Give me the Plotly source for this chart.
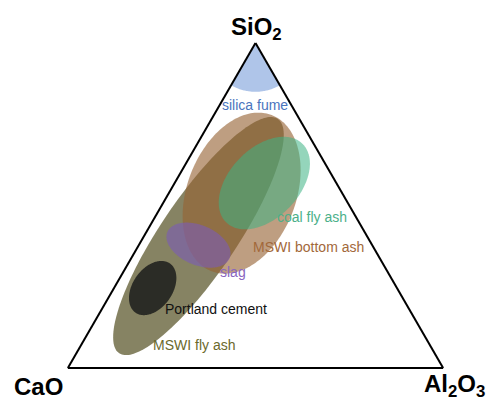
import numpy as np
import plotly.graph_objects as go

# Composition fields of the binder materials in the CaO-SiO2-Al2O3 system.
# Centre composition in wt %, spread as ellipse semi-axes (% of the triangle side)
# and tilt of the major axis (degrees, counter-clockwise from the CaO-Al2O3 base).
materials = ["MSWI fly ash", "MSWI bottom ash", "coal fly ash", "slag", "Portland cement"]
center_sio2 = [40.6, 53.8, 56.9, 37.8, 24.6]
center_cao = [44.9, 26.8, 19.2, 46.3, 65.1]
center_al2o3 = [14.5, 19.4, 23.9, 15.9, 10.3]
semi_major = [37.7, 22.3, 14.6, 9.0, 8.0]
semi_minor = [10.1, 14.5, 9.3, 5.3, 5.3]
tilt_deg = [55.9, 69.0, 46.0, -23.0, 55.0]

# Silica fume: near-pure SiO2, a cap around the SiO2 corner
silica_fume_radius = 13.0

fill_colors = {
    "silica fume": "rgba(110,150,215,0.55)",
    "MSWI fly ash": "rgba(92,88,45,0.74)",
    "MSWI bottom ash": "rgba(150,98,52,0.62)",
    "coal fly ash": "rgba(61,179,131,0.55)",
    "slag": "rgba(123,92,184,0.6)",
    "Portland cement": "rgba(36,37,33,0.92)",
}
label_colors = {
    "silica fume": "#4a74bd",
    "coal fly ash": "#4bb089",
    "MSWI bottom ash": "#a2683a",
    "slag": "#8966c0",
    "Portland cement": "#111111",
    "MSWI fly ash": "#6b692c",
}

H = np.sqrt(3) / 2


def to_xy(a, b, c):
    s = a + b + c
    a, c = a / s, c / s
    return c + a / 2, a * H


def to_abc(x, y):
    a = y / H
    c = x - a / 2
    b = 1 - a - c
    return 100 * a, 100 * b, 100 * c


def ellipse(sio2, cao, al2o3, ra, rb, tilt, n=200):
    x0, y0 = to_xy(sio2, cao, al2o3)
    t = np.linspace(0, 2 * np.pi, n)
    th = np.radians(tilt)
    ra, rb = ra / 100, rb / 100
    x = x0 + ra * np.cos(t) * np.cos(th) - rb * np.sin(t) * np.sin(th)
    y = y0 + ra * np.cos(t) * np.sin(th) + rb * np.sin(t) * np.cos(th)
    return to_abc(x, y)


fig = go.Figure()

# silica fume cap at the SiO2 apex
ax, ay = to_xy(100, 0, 0)
ang = np.radians(np.linspace(240, 300, 60))
r = silica_fume_radius / 100
cx = np.concatenate([[ax], ax + r * np.cos(ang), [ax]])
cy = np.concatenate([[ay], ay + r * np.sin(ang), [ay]])
a, b, c = to_abc(cx, cy)
fig.add_trace(go.Scatterternary(a=a, b=b, c=c, mode="lines", fill="toself",
                                fillcolor=fill_colors["silica fume"],
                                line=dict(width=0, color="rgba(0,0,0,0)"),
                                name="silica fume", hoverinfo="name"))

for i, name in enumerate(materials):
    a, b, c = ellipse(center_sio2[i], center_cao[i], center_al2o3[i],
                      semi_major[i], semi_minor[i], tilt_deg[i])
    fig.add_trace(go.Scatterternary(a=a, b=b, c=c, mode="lines", fill="toself",
                                    fillcolor=fill_colors[name],
                                    line=dict(width=0, color="rgba(0,0,0,0)"),
                                    name=name, hoverinfo="name"))

W, HT = 489, 400
axis_style = dict(showticklabels=False, ticks="", showgrid=False, showline=True,
                  linecolor="black", linewidth=2, title=dict(text=""))

fig.update_layout(
    width=W, height=HT,
    margin=dict(l=0, r=0, t=0, b=0),
    paper_bgcolor="white",
    showlegend=False,
    ternary=dict(
        sum=100,
        bgcolor="white",
        domain=dict(x=[67 / W, 444 / W], y=[32 / HT, 357 / HT]),
        aaxis=axis_style, baxis=axis_style, caxis=axis_style,
    ),
)

font_family = "Arial, Liberation Sans, Helvetica, sans-serif"


def px_note(text, x, y, size, color, bold=False):
    fig.add_annotation(text=f"<b>{text}</b>" if bold else text,
                       x=x / W, y=1 - y / HT, xref="paper", yref="paper",
                       xanchor="center", yanchor="middle", showarrow=False,
                       borderpad=0,
                       font=dict(family=font_family, size=size, color=color))


# vertex titles
px_note("SiO<sub>2</sub>", 256, 28, 24, "black", bold=True)
px_note("CaO", 38, 386, 24, "black", bold=True)
px_note("Al<sub>2</sub>O<sub>3</sub>", 454, 385, 24, "black", bold=True)

# field labels
label_pos = {
    "silica fume": (255, 105),
    "coal fly ash": (312, 217),
    "MSWI bottom ash": (308, 247),
    "slag": (233, 272),
    "Portland cement": (216, 309),
    "MSWI fly ash": (194, 345),
}
for name, (x, y) in label_pos.items():
    px_note(name, x, y, 14, label_colors[name])

fig.write_html("out.html")
